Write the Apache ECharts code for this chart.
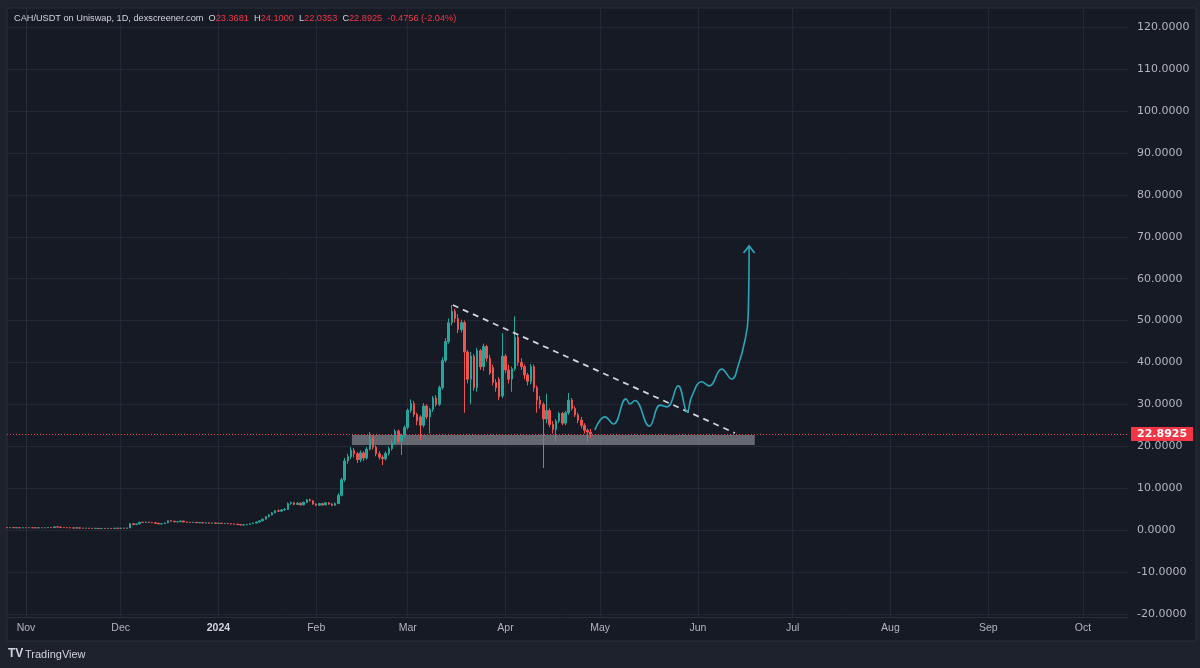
<!DOCTYPE html>
<html><head><meta charset="utf-8">
<script src="https://cdn.jsdelivr.net/npm/echarts@6/dist/echarts.min.js"></script>
<style>html,body{margin:0;padding:0;background:#1e222d}#c{width:1200px;height:668px}</style>
</head><body><div id="c"></div>
<script>
// ---------- data ----------
const firstCandleDate = '2023-10-26';
// daily candles: [open, close, low, high]
const candleOCLH = [
[0.60,0.55,0.50,0.65],[0.55,0.58,0.50,0.62],[0.58,0.54,0.50,0.62],[0.54,0.56,0.50,0.60],[0.56,0.52,0.48,0.60],[0.52,0.55,0.48,0.60],
[0.55,0.53,0.48,0.60],[0.53,0.56,0.50,0.60],[0.56,0.54,0.50,0.60],[0.54,0.52,0.48,0.58],[0.52,0.55,0.48,0.60],[0.55,0.53,0.50,0.58],
[0.53,0.56,0.50,0.62],[0.56,0.60,0.52,0.65],[0.60,0.58,0.55,0.70],[0.58,0.75,0.55,0.85],[0.75,0.70,0.65,0.90],[0.70,0.62,0.58,0.75],
[0.62,0.58,0.55,0.66],[0.58,0.55,0.50,0.62],[0.55,0.50,0.45,0.58],[0.50,0.48,0.42,0.55],[0.48,0.52,0.42,0.56],[0.52,0.45,0.40,0.55],
[0.45,0.42,0.38,0.50],[0.42,0.44,0.36,0.48],[0.44,0.40,0.35,0.48],[0.40,0.38,0.32,0.44],[0.38,0.40,0.32,0.45],[0.40,0.36,0.30,0.44],
[0.36,0.38,0.30,0.42],[0.38,0.35,0.30,0.42],[0.35,0.40,0.30,0.45],[0.40,0.38,0.32,0.45],[0.38,0.42,0.34,0.50],[0.42,0.40,0.35,0.55],
[0.40,0.45,0.35,0.50],[0.45,0.42,0.38,0.50],[0.42,0.50,0.38,0.55],[0.50,1.50,0.45,1.60],[1.50,1.30,1.20,1.60],[1.30,1.45,1.20,1.55],
[1.45,1.85,1.40,1.95],[1.85,1.80,1.70,1.95],[1.80,1.90,1.70,2.00],[1.90,1.80,1.70,1.95],[1.80,1.75,1.65,1.90],[1.75,1.60,1.50,1.80],
[1.60,1.45,1.40,1.70],[1.45,1.50,1.35,1.60],[1.50,1.70,1.45,1.80],[1.70,2.20,1.65,2.30],[2.20,2.10,2.00,2.40],[2.10,1.95,1.85,2.20],
[1.95,2.00,1.85,2.10],[2.00,2.15,1.90,2.25],[2.15,1.90,1.85,2.20],[1.90,1.85,1.75,2.00],[1.85,1.80,1.70,1.95],[1.80,1.85,1.70,1.95],
[1.85,1.75,1.65,1.90],[1.75,1.78,1.65,1.85],[1.78,1.70,1.60,1.85],[1.70,1.72,1.60,1.80],[1.72,1.65,1.55,1.80],[1.65,1.68,1.55,1.75],
[1.68,1.60,1.50,1.75],[1.60,1.62,1.50,1.70],[1.62,1.55,1.45,1.70],[1.55,1.58,1.45,1.65],[1.58,1.50,1.40,1.65],[1.50,1.45,1.35,1.55],
[1.45,1.40,1.30,1.50],[1.40,1.30,1.20,1.45],[1.30,1.20,1.10,1.35],[1.20,1.25,1.10,1.35],[1.25,1.35,1.15,1.40],[1.35,1.50,1.30,1.60],
[1.50,1.65,1.45,1.75],[1.65,1.90,1.60,2.00],[1.90,2.20,1.85,2.30],[2.20,2.60,2.10,2.70],[2.60,3.20,2.50,3.30],[3.20,3.60,3.00,3.80],
[3.60,4.10,3.50,4.30],[4.10,4.60,4.00,4.80],[4.60,4.50,4.30,4.90],[4.50,4.80,4.40,5.00],[4.80,4.90,4.60,5.20],[4.90,6.30,4.80,6.60],
[6.30,6.50,6.00,6.80],[6.50,6.10,5.90,6.70],[6.10,6.40,6.00,6.70],[6.40,6.00,5.80,6.60],[6.00,6.60,5.90,6.80],[6.60,7.20,6.40,7.40],
[7.20,7.00,6.80,7.50],[7.00,6.20,6.00,7.10],[6.20,5.90,5.70,6.40],[5.90,6.30,5.80,6.50],[6.30,6.00,5.80,6.50],[6.00,6.50,5.90,6.70],
[6.50,6.20,6.00,6.70],[6.20,5.90,5.70,6.40],[5.90,6.30,5.80,6.60],[6.30,8.30,6.20,8.80],[8.30,12.00,8.00,12.50],[12.00,16.50,11.50,17.20],
[16.50,17.50,15.80,18.20],[17.50,19.00,17.00,19.80],[19.00,18.20,17.30,19.60],[18.20,16.80,16.00,18.60],[16.80,18.40,16.20,19.00],[18.40,17.20,16.50,18.80],
[17.20,19.30,16.80,19.80],[19.30,22.20,19.00,23.40],[22.20,19.80,19.20,22.60],[19.80,18.20,17.60,20.20],[18.20,17.40,16.80,18.80],[17.40,17.00,15.50,17.90],
[17.00,18.30,16.60,18.80],[18.30,19.40,17.80,19.90],[19.40,20.80,19.00,21.40],[20.80,23.60,20.50,24.00],[23.60,21.20,20.80,24.00],[21.20,22.60,17.90,23.00],
[22.60,24.50,22.00,25.00],[24.50,28.60,24.00,29.00],[28.60,30.20,28.00,31.20],[30.20,27.60,27.00,30.80],[27.60,26.00,25.00,28.00],[27.00,25.00,21.50,27.40],
[25.00,29.60,24.50,30.30],[29.60,27.00,26.50,30.00],[27.00,28.80,23.00,29.20],[28.80,31.50,28.20,32.00],[31.50,30.00,29.50,32.20],[30.00,34.00,29.60,34.50],
[34.00,40.50,33.50,41.20],[40.50,45.00,40.00,45.80],[45.00,49.50,44.50,50.50],[49.50,52.20,48.80,53.70],[52.20,50.50,49.50,52.80],[50.50,47.80,47.00,51.50],
[47.80,49.50,47.20,50.20],[49.50,42.50,28.00,50.00],[42.50,36.00,35.00,43.00],[36.00,41.50,30.00,42.50],[41.50,34.00,33.20,42.00],[34.00,42.80,33.00,43.50],
[42.80,39.00,38.20,43.20],[39.00,43.80,38.00,44.50],[43.80,41.00,40.20,44.20],[41.00,37.50,37.00,41.80],[38.80,35.20,34.50,39.50],[35.20,34.00,33.00,36.00],
[36.00,31.80,31.00,36.50],[32.00,41.50,31.50,47.00],[41.50,38.20,37.50,42.00],[38.20,36.00,35.00,39.50],[36.00,38.50,33.00,39.00],[38.50,46.00,38.00,51.00],
[46.00,40.00,39.20,46.50],[40.00,39.00,38.20,41.00],[39.00,37.00,36.00,39.50],[37.00,35.50,34.50,37.50],[35.50,39.00,34.80,39.60],[39.00,34.00,33.00,39.50],
[34.00,31.00,28.00,34.50],[31.00,30.00,29.00,32.00],[30.00,26.50,14.80,30.50],[26.50,28.50,25.50,32.50],[28.50,25.20,24.50,29.00],[25.20,24.00,23.00,26.00],
[24.00,26.00,21.00,26.50],[26.00,27.80,25.50,28.20],[27.80,25.50,25.00,28.20],[25.50,28.00,25.00,28.50],[28.00,31.00,27.50,32.70],[31.00,29.00,28.50,31.50],
[29.00,27.50,27.00,29.50],[27.50,26.20,25.50,28.00],[26.20,25.00,24.30,27.00],[25.00,23.80,23.00,25.50],[23.80,23.37,21.00,24.20],[23.3681,22.8925,22.0353,24.1000]
];
const monthTicks = ['2023-11-01','2023-12-01','2024-01-01','2024-02-01','2024-03-01','2024-04-01','2024-05-01','2024-06-01','2024-07-01','2024-08-01','2024-09-01','2024-10-01'];
const monthLabels = ['Nov','Dec','2024','Feb','Mar','Apr','May','Jun','Jul','Aug','Sep','Oct'];
const priceTicks = [-20,-10,0,10,20,30,40,50,60,70,80,90,100,110,120];
const lastPrice = 22.8925;
// drawings (days counted from 2023-11-01)
const trendDay = [135.3, 224.7];
const trendVal = [53.7, 23.15];
const zoneDay = [103.3, 231.0];
const zoneVal = [22.7, 20.3];
const projDay = [180.3,183.5,186.2,190.2,191.4,193.0,197.6,201.0,203.2,206.7,209.6,211.0,214.2,216.6,220.5,223.7,225.8,227.9,228.9,229.2];
const projVal = [23.9,27.0,25.3,31.3,30.1,30.9,24.8,29.8,29.4,34.4,28.2,31.8,35.4,34.4,38.4,36.0,39.4,45.3,50.9,67.8];
const header = {pair:'CAH/USDT on Uniswap, 1D, dexscreener.com', O:'23.3681', H:'24.1000', L:'22.0353', C:'22.8925', chg:'-0.4756 (-2.04%)'};

// ---------- build (x axis in days since 2023-11-01) ----------
const DAY = 86400000;
const T0 = Date.parse('2023-11-01');
const toDay = s => Math.round((Date.parse(s) - T0) / DAY);
const d0 = toDay(firstCandleDate);
const candleData = candleOCLH.map((r, i) => [d0 + i, r[0], r[1], r[2], r[3]]);
const monthDays = monthTicks.map(toDay);
const FONT = "'Liberation Sans',Arial,sans-serif";
const AXFONT = "'DejaVu Sans',Verdana,sans-serif";
const UP = '#26a69a', DOWN = '#ef5350', CYAN = '#2aa4b6';
const projData = projDay.map((d, i) => [d, projVal[i]]);
const lastP = projData[projData.length - 1];
projData[projData.length - 1] = {value: lastP, symbol: 'path://M0,8 L6,0 L12,8', symbolSize: [11, 7], symbolOffset: [0, '50%'],
  itemStyle: {color: 'rgba(0,0,0,0)', borderColor: CYAN, borderWidth: 1.6}};
const HF = 9.2;

const chart = echarts.init(document.getElementById('c'), null, {renderer: 'canvas'});
chart.setOption({
  backgroundColor: '#1e222d',
  animation: false,
  textStyle: {fontFamily: FONT},
  grid: {left: 7, right: 72, top: 8, bottom: 51, show: false},
  xAxis: {
    type: 'value', min: -6.02, max: 349.3,
    axisLine: {show: true, onZero: false, lineStyle: {color: '#2a2e39'}},
    axisTick: {show: false, customValues: monthDays},
    axisLabel: {customValues: monthDays, color: '#b2b5be', fontSize: 10.5, margin: 6, fontFamily: FONT,
      formatter: v => { const i = monthDays.indexOf(Math.round(v)); const s = i >= 0 ? monthLabels[i] : ''; return s === '2024' ? '{b|' + s + '}' : s; },
      rich: {b: {fontWeight: 'bold', color: '#d1d4dc', fontSize: 10.5, fontFamily: FONT}}},
    splitLine: {show: true, lineStyle: {color: '#232733', width: 1}}
  },
  yAxis: {
    type: 'value', position: 'right', min: -20.76, max: 124.6,
    axisLine: {show: true, lineStyle: {color: '#2a2e39'}},
    axisTick: {show: false, customValues: priceTicks},
    axisLabel: {customValues: priceTicks, color: '#b2b5be', fontSize: 11, margin: 9, fontFamily: AXFONT, formatter: v => v.toFixed(4)},
    splitLine: {show: true, lineStyle: {color: '#232733', width: 1}}
  },
  graphic: [
    {type: 'rect', shape: {x: 7, y: 8, width: 1189, height: 633}, style: {fill: '#161a25', stroke: '#2a2e39', lineWidth: 1}, z: -10, silent: true},
    {type: 'rect', shape: {x: 1129, y: 618, width: 66, height: 22}, style: {fill: '#161a25'}, z: 10, silent: true},
    {type: 'text', x: 14, y: 14, z: 10, silent: true, style: {
      text: '{t|' + header.pair + '}  {t|O}{r|' + header.O + '}  {t|H}{r|' + header.H + '}  {t|L}{r|' + header.L + '}  {t|C}{r|' + header.C + '}  {r|' + header.chg + '}',
      font: HF + 'px ' + FONT, fill: '#d1d4dc',
      rich: {t: {fill: '#d1d4dc', fontSize: HF, fontFamily: FONT}, r: {fill: '#f23645', fontSize: HF, fontFamily: FONT}}}},
    {type: 'text', x: 8, y: 648, z: 10, silent: true, style: {text: 'TV', font: 'bold 12px ' + FONT, fill: '#d1d4dc'}},
    {type: 'text', x: 25, y: 649, z: 10, silent: true, style: {text: 'TradingView', font: '11px ' + FONT, fill: '#d1d4dc'}}
  ],
  series: [
    {
      type: 'candlestick', name: 'CAH/USDT', data: candleData, barWidth: 2,
      itemStyle: {color: UP, color0: DOWN, borderColor: UP, borderColor0: DOWN, borderWidth: 1},
      markArea: {silent: true, itemStyle: {color: 'rgba(150,152,160,0.62)'},
        data: [[{coord: [zoneDay[0], zoneVal[0]]}, {coord: [zoneDay[1], zoneVal[1]]}]]},
      markLine: {silent: true, symbol: ['none', 'none'], animation: false,
        lineStyle: {color: '#f23645', type: [1, 2], width: 1},
        label: {show: true, position: 'end', distance: 3, formatter: lastPrice.toFixed(4), color: '#ffffff', backgroundColor: '#f23645',
          padding: [2, 6, 1, 6], fontSize: 11, fontWeight: 'bold', fontFamily: AXFONT},
        data: [{yAxis: lastPrice}]}
    },
    {
      type: 'line', name: 'trend', data: trendDay.map((d, i) => [d, trendVal[i]]), symbol: 'none', z: 4,
      lineStyle: {color: '#d1d4dc', width: 1.8, type: [6, 5]}
    },
    {
      type: 'line', name: 'projection', data: projData, symbol: 'none', smooth: 0.45, z: 4,
      lineStyle: {color: CYAN, width: 1.6}
    }
  ]
});
</script></body></html>
